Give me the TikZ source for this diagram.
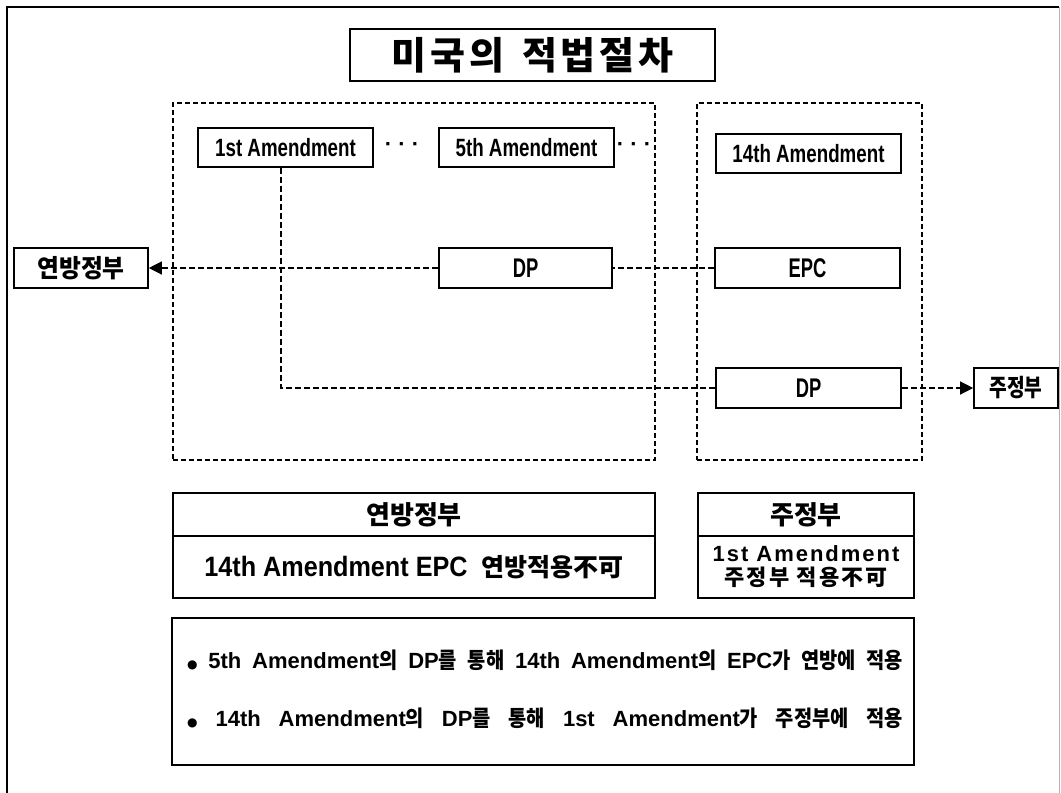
\documentclass[tikz,border=0pt]{standalone}
\usepackage{fontspec}
\setmainfont{Liberation Sans}
\newfontfamily\latA[FakeStretch=0.75]{Liberation Sans}
\newfontfamily\latB[FakeStretch=0.68]{Liberation Sans}
\newfontfamily\latC[FakeStretch=0.9]{Liberation Sans}
\newfontfamily\hanfont{Noto Sans CJK KR}
\newfontfamily\hanN[FakeStretch=0.8]{Noto Sans CJK KR}
\newfontfamily\hanM[FakeStretch=0.95]{Noto Sans CJK KR}
\newfontfamily\hanK[FakeStretch=0.9]{Noto Sans CJK KR}
\newfontfamily\symfont{DejaVu Sans}
\newcommand\K[1]{{\hanK #1}}
\usetikzlibrary{arrows.meta}
\begin{document}
\begin{tikzpicture}[x=1pt,y=-1pt,
  box/.style={draw, line width=1.6pt, inner sep=0pt, font=\bfseries},
  dbox/.style={draw, line width=1.3pt, dash pattern=on 5pt off 3pt, inner sep=0pt},
  dline/.style={line width=1.3pt, dash pattern=on 6pt off 3pt},
  tip/.style={-{Triangle[length=13pt,width=13pt]}},
  amend/.style={box, minimum height=39pt, font=\bfseries\latA\fontsize{25}{27}\selectfont},
  cell/.style={box, minimum width=185pt, minimum height=40pt, font=\bfseries\latB\fontsize{27}{29}\selectfont},
  gov/.style={box, minimum height=40pt},
  dots/.style={inner sep=0pt, font=\bfseries\fontsize{22}{22}\selectfont},
  bline/.style={anchor=west, inner sep=0pt, font=\bfseries\fontsize{22}{24}\selectfont},
]
\useasboundingbox (0,0) rectangle (1061,793);
% outer frame
\draw[line width=2.5pt] (7,793) -- (7,7) -- (1059,7);
\draw[gray!60, line width=0.8pt] (1059,7) -- (1059,793);

% title
\node[box, minimum width=365pt, minimum height=52pt] (title) at (532.5,55)
  {\hanfont\bfseries\fontsize{38}{40}\selectfont 미\hspace{4pt}국\hspace{4pt}의\hspace{18pt}적\hspace{4pt}법\hspace{4pt}절\hspace{4pt}차};

% dashed groups
\node[dbox, minimum width=482pt, minimum height=357pt] (gl) at (414,281.5) {};
\node[dbox, minimum width=225pt, minimum height=357pt] (gr) at (809.5,281.5) {};

% amendments
\node[amend, minimum width=175pt] (a1) at (285.5,147.5) {1st Amendment};
\node[dots] (d1) at (402,147) {· · ·};
\node[amend, minimum width=175pt] (a5) at (526.5,147.5) {5th Amendment};
\node[dots] (d2) at (634,147) {· · ·};
\node[amend, minimum width=185pt] (a14) at (808.5,153.5) {14th Amendment};

% DP / EPC
\node[cell, minimum width=173pt] (dp1) at (525.5,268) {DP};
\node[cell] (epc) at (807.5,268) {EPC};
\node[cell] (dp2) at (808.5,388) {DP};

% governments
\node[gov, minimum width=134pt] (fed) at (81,268) {\hanM\bfseries\fontsize{25}{27}\selectfont 연방정부};
\node[gov, minimum width=84pt] (st) at (1016,388) {\hanN\bfseries\fontsize{24}{26}\selectfont 주정부};

% connectors
\draw[dline, tip] (dp1.west) -- (fed.east);
\draw[dline] (epc.west) -- (dp1.east);
\draw[dline] ([xshift=-4.5pt]a1.south) |- (dp2.west);
\draw[dline, tip] (dp2.east) -- (st.west);

% tables
\node[box, minimum width=482pt, minimum height=43pt] (t1h) at (414,514.5)
  {\hanfont\bfseries\fontsize{26}{28}\selectfont 연방정부};
\node[box, minimum width=482pt, minimum height=62pt] (t1b) at (414,567)
  {{\latC\bfseries\fontsize{28}{30}\selectfont 14th Amendment EPC}\hspace{14pt}{\hanfont\bfseries\fontsize{25}{27}\selectfont 연방적용不可}};
\node[box, minimum width=216pt, minimum height=43pt] (t2h) at (806,514.5)
  {\hanfont\bfseries\fontsize{26}{28}\selectfont 주정부};
\node[box, minimum width=216pt, minimum height=62pt, align=center,
      font=\bfseries\fontsize{22}{24}\selectfont] (t2b) at (806,567)
  {{\addfontfeature{LetterSpace=9}1st Amendment}\\
   {\hanfont\addfontfeature{LetterSpace=10}주정부 적용不可}};

% notes
\node[box, minimum width=742pt, minimum height=147pt] (note) at (543,691.5) {};
\node[bline] (l1) at (187,660) {\makebox[716pt][s]{{\symfont\fontsize{12}{12}\selectfont ●} 5th Amendment\K{의} DP\K{를} \K{통해} 14th Amendment\K{의} EPC\K{가} \K{연방에} \K{적용}}};
\node[bline] (l2) at (187,718) {\makebox[716pt][s]{{\symfont\fontsize{12}{12}\selectfont ●} 14th Amendment\K{의} DP\K{를} \K{통해} 1st Amendment\K{가} \K{주정부에} \K{적용}}};
\end{tikzpicture}
\end{document}
